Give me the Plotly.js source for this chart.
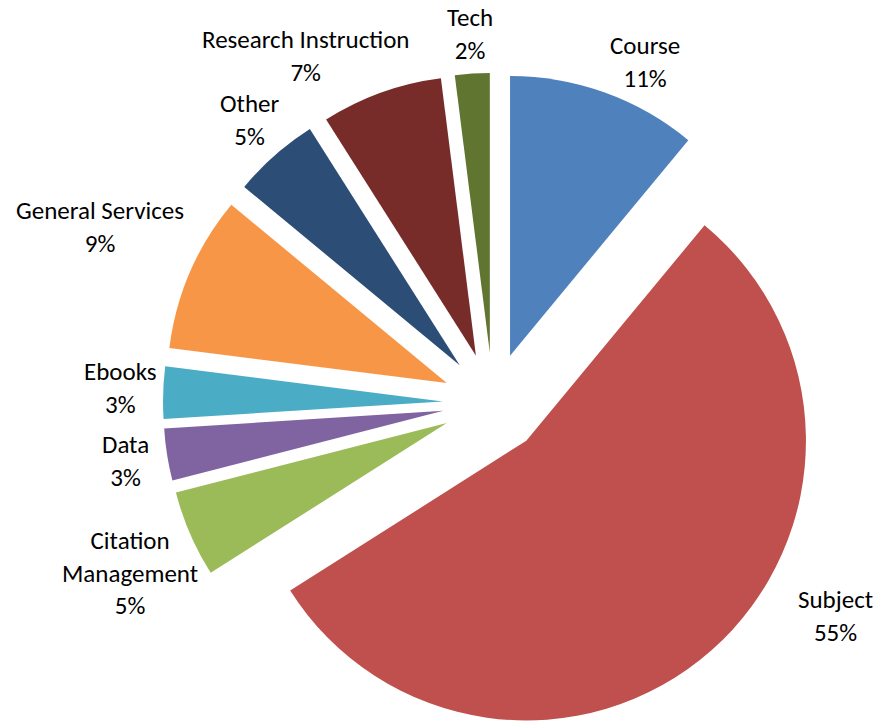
<!DOCTYPE html>
<html>
<head>
<meta charset="utf-8">
<script src="https://cdn.plot.ly/plotly-3.0.1.min.js"></script>
<style>
html,body{margin:0;padding:0;overflow:hidden;background:#fff;}
#chart{width:876px;height:760px;}
</style>
</head>
<body>
<div id="chart"></div>
<script>
var labels = ["Course", "Subject", "Citation Management", "Data", "Ebooks", "General Services", "Other", "Research Instruction", "Tech"];
var values = [11, 55, 5, 3, 3, 9, 5, 7, 2];
var colors = ["#4F81BD", "#C0504D", "#9BBB59", "#8064A2", "#4BACC6", "#F79646", "#2C4D75", "#772C2A", "#5F7530"];

var W = 876, H = 760;
// label block centres in pixels (layout only)
var labelPos = [[645, 62], [835, 616], [130, 573], [125, 461], [120, 388], [100, 227], [250, 120], [305, 56], [470, 34]];

var total = values.reduce(function(a, b){ return a + b; }, 0);
var annotations = labels.map(function(l, i){
  var name = l === "Citation Management" ? "Citation<br>Management" : l;
  return {
    xref: "paper", yref: "paper",
    x: labelPos[i][0] / W, y: (H - labelPos[i][1]) / H,
    xanchor: "center", yanchor: "middle",
    showarrow: false, align: "center",
    text: name + "<br>" + Math.round(values[i] / total * 100) + "%",
    font: {family: "Carlito, Calibri, Lato, sans-serif", size: 25, color: "#000"}
  };
});

var trace = {
  type: "pie",
  labels: labels,
  values: values,
  textinfo: "none",
  sort: false,
  direction: "clockwise",
  rotation: 0,
  pull: 0.18,
  marker: {colors: colors, line: {width: 0}},
  domain: {x: [163/W, 823/W], y: [27/H, 687/H]},
  automargin: false,
  hoverinfo: "label+percent"
};

var layout = {
  width: W,
  height: H,
  margin: {l: 0, r: 0, t: 0, b: 0},
  showlegend: false,
  paper_bgcolor: "#fff",
  annotations: annotations,
  font: {family: "Carlito, Calibri, Lato, sans-serif"}
};

Plotly.newPlot("chart", [trace], layout, {displayModeBar: false, staticPlot: true});
</script>
</body>
</html>
